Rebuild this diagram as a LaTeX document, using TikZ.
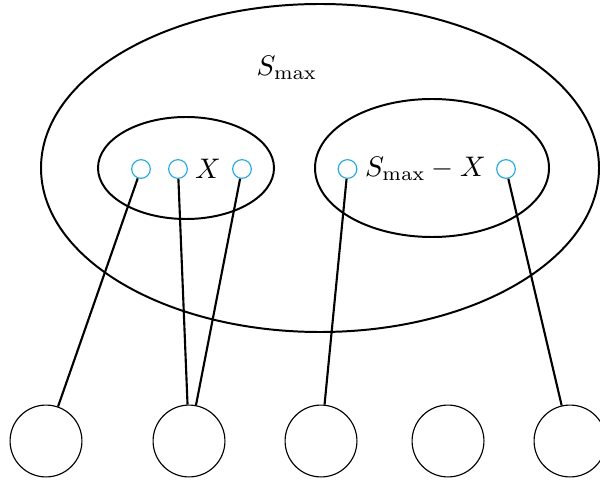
\documentclass[tikz,border=0pt]{standalone}
\definecolor{dotblue}{RGB}{30,170,230}
\begin{document}
\begin{tikzpicture}[x=0.3534pt,y=-0.3534pt,
  setline/.style={line width=0.7pt},
  dotnode/.style={circle,draw=dotblue,line width=0.4pt,minimum size=6.6pt,inner sep=0pt},
  bignode/.style={circle,draw,line width=0.4pt,minimum size=25.4pt,inner sep=0pt},
  link/.style={line width=0.75pt}]
\useasboundingbox (0,0) rectangle (600,484);
% sets
\draw[setline] (320,168) ellipse [x radius=279, y radius=164];
\draw[setline] (186,168) ellipse [x radius=88, y radius=51];
\draw[setline] (432,168) ellipse [x radius=117, y radius=69];
% labels
\node (smax) at (287,68) {$S_{\max}$};
\node (xl) at (208,169) {$X$};
\node (sx) at (425.5,169) {$S_{\max}-X$};
% elements
\node[dotnode] (c1) at (141,169) {};
\node[dotnode] (c2) at (178,169) {};
\node[dotnode] (c3) at (242,169) {};
\node[dotnode] (c4) at (347.5,169) {};
\node[dotnode] (c5) at (506,169) {};
% bottom nodes
\node[bignode] (b1) at (46,441) {};
\node[bignode] (b2) at (189,441) {};
\node[bignode] (b3) at (321,441) {};
\node[bignode] (b4) at (448,441) {};
\node[bignode] (b5) at (570,441) {};
% connectors
\draw[link] (c1) -- (b1);
\draw[link] (c2) -- (b2);
\draw[link] (c3) -- (b2);
\draw[link] (c4) -- (b3);
\draw[link] (c5) -- (b5);
\end{tikzpicture}
\end{document}
